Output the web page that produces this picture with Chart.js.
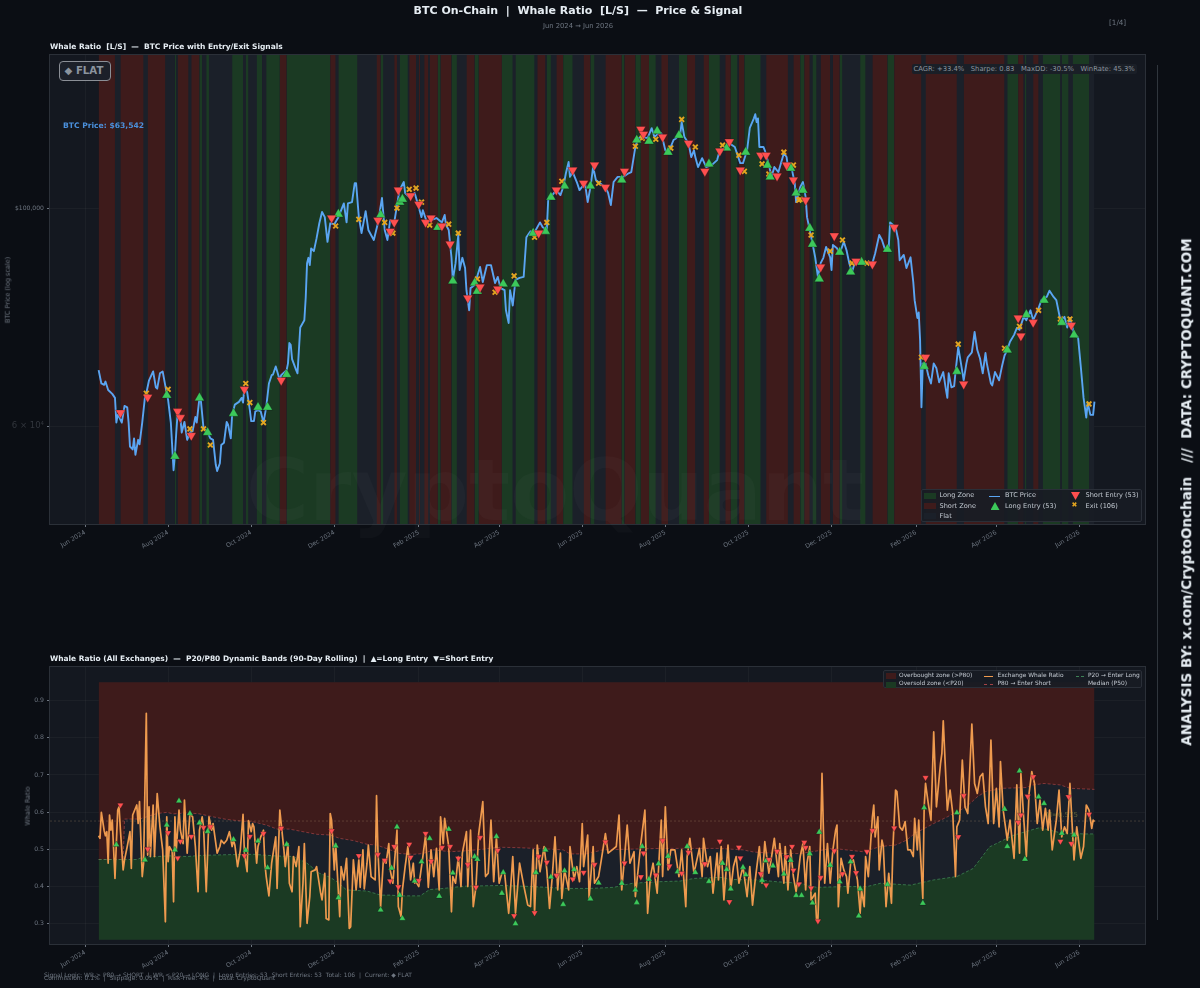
<!DOCTYPE html>
<html><head><meta charset="utf-8">
<script src="https://cdn.jsdelivr.net/npm/chart.js@4"></script>
<style>
html,body{margin:0;padding:0;background:#0b0e14;width:1200px;height:988px;overflow:hidden;font-family:"DejaVu Sans",sans-serif}
canvas{position:absolute;left:0}
.t{position:absolute;white-space:pre;line-height:1}
.leg{position:absolute;background:rgba(24,28,36,.92);border:1px solid #2a2f38;box-sizing:border-box;border-radius:2px}
.sw{position:absolute;width:12px;height:6px}
.ln{position:absolute;width:11px;height:0;border-top:1.5px solid}
.lt{position:absolute;white-space:pre;line-height:1;color:#c3c9d1}
.up,.dn{position:absolute;width:9px;height:8px}
.up{clip-path:polygon(50% 0,100% 100%,0 100%);background:#3cc95a}
.dn{clip-path:polygon(0 0,100% 0,50% 100%);background:#ff4f4f}
</style></head><body>
<canvas id="c1" width="1200" height="560" style="top:0;width:1200px;height:560px"></canvas>
<canvas id="c2" width="1200" height="340" style="top:640px;width:1200px;height:340px"></canvas>
<div id="overlay"></div>
<script>
// ---------- tick labels (x in days since 1 Jun 2024) ----------
const tickDays=[0,61,122,183,245,304,365,426,487,548,610,669,730];
const tickLabels=["Jun 2024","Aug 2024","Oct 2024","Dec 2024","Feb 2025","Apr 2025","Jun 2025","Aug 2025","Oct 2025","Dec 2025","Feb 2026","Apr 2026","Jun 2026"];
const priceTicks=[60000,100000];
const ratioTicks=[0.3,0.4,0.5,0.6,0.7,0.8,0.9];
const dayRange=[-25.7,778.1];
const priceRange=[47700,143150];
const ratioRange=[0.2442,0.991];
const bandTop=0.95, bandBottom=0.2558, medianValue=0.5757;
const dataSpan=[10,741];

// ---------- regime zones [startDay,endDay] ----------
const shortZones=[[10,22],[26,43],[46,59],[68,76],[78,84],[143,148],[180,184],[214,217],[227,229],[238,243],[245,246],[249,252],[253,259],[261,269],[280,286],[289,306],[332,338],[346,351],[366,371],[382,394],[396,404],[408,414],[423,428],[442,448],[454,458],[470,474],[480,484],[500,516],[520,525],[528,532],[540,547],[549,554],[578,589],[594,614],[617,640],[645,675],[685,689],[696,700]];
const longZones=[[66,67],[84,86],[89,91],[108,116],[118,120],[126,130],[133,143],[148,180],[186,200],[217,219],[231,237],[259,261],[269,273],[286,289],[306,314],[316,330],[339,342],[351,358],[371,374],[394,396],[404,408],[414,419],[436,442],[458,466],[474,479],[484,496],[525,528],[534,537],[554,556],[569,573],[589,594],[677,685],[690,691],[703,716],[717,722],[725,737]];

// ---------- BTC price [day, USD] ----------
const priceSeries=[[10,68400],[12,66300],[14,66100],[15,66600],[17,65300],[20,64700],[22,64100],[23,60500],[24,61600],[25,61300],[27,60500],[29,62900],[31,62700],[32,60500],[33,57200],[35,56800],[36,58300],[37,56100],[39,58100],[40,57500],[42,60500],[44,64200],[45,64800],[47,66800],[50,68200],[52,65700],[53,65500],[55,67900],[57,68200],[59,65900],[61,63800],[63,60500],[65,54100],[66,56100],[67,59100],[68,61900],[70,61200],[71,59100],[73,60600],[75,58100],[77,59100],[79,59300],[81,61300],[82,60500],[84,64100],[85,63800],[87,59700],[90,59100],[92,58300],[94,58100],[96,54800],[97,54000],[99,55000],[100,57400],[102,57700],[104,60600],[105,60200],[107,58300],[108,61600],[110,63100],[113,63500],[115,64100],[116,63400],[117,65700],[119,65000],[121,62300],[122,60700],[124,60700],[125,62100],[127,62300],[129,62100],[131,60500],[133,62700],[135,66300],[137,67600],[138,67700],[140,69000],[143,66800],[144,67600],[148,68400],[149,69500],[150,72900],[151,72600],[152,70200],[155,68400],[156,67900],[158,75600],[161,76900],[162,81000],[163,87900],[164,89000],[165,87500],[166,91000],[168,90400],[170,93200],[172,96500],[174,99100],[176,97900],[178,92400],[180,96500],[183,96300],[186,97900],[190,101100],[192,96700],[193,101100],[196,101400],[198,106000],[199,106000],[201,97900],[203,94300],[206,99300],[208,95000],[212,92800],[215,96500],[218,102400],[220,95000],[222,92800],[224,97200],[227,96700],[230,102600],[231,104400],[234,106300],[235,103600],[238,102600],[242,103600],[245,100200],[247,97900],[248,99500],[251,96700],[254,97200],[258,97700],[262,96700],[264,98400],[265,96100],[267,95000],[269,89100],[270,84500],[272,87900],[274,93900],[275,86500],[277,89000],[279,86900],[280,82500],[282,78700],[283,82900],[286,83500],[290,87100],[292,84100],[295,87500],[298,87500],[301,83900],[303,85100],[305,82900],[308,82500],[309,78700],[311,76400],[312,82500],[314,79600],[316,84500],[319,84900],[322,85100],[324,93400],[327,94700],[330,94500],[334,96700],[336,95600],[339,95000],[340,101900],[343,103100],[346,104300],[349,103100],[351,105000],[353,108500],[355,111400],[356,107600],[358,108800],[361,106300],[363,104300],[367,106000],[369,101400],[371,105000],[373,110100],[375,106800],[378,106000],[382,105000],[384,103600],[386,100700],[388,106300],[391,107600],[395,107600],[399,108500],[401,108800],[404,115400],[406,117800],[410,118100],[413,117800],[416,120600],[418,118100],[421,119200],[423,119200],[426,114500],[428,113700],[432,117300],[434,117800],[437,119200],[438,122300],[440,118100],[443,116400],[445,112700],[447,114500],[448,112700],[450,110100],[453,112400],[456,110100],[460,110600],[464,111900],[466,114500],[470,115100],[473,116400],[477,115400],[481,111100],[483,111100],[486,114500],[488,120700],[491,123400],[492,124600],[493,122300],[494,123400],[495,115400],[498,115400],[499,114500],[502,110600],[504,107600],[506,110100],[509,108800],[513,113700],[515,112700],[516,110100],[519,109300],[521,106000],[522,101400],[525,105000],[527,106300],[529,102600],[530,97900],[532,95000],[534,92100],[536,89100],[538,85100],[540,87900],[542,89000],[544,91300],[547,89100],[548,86500],[549,91700],[552,91000],[554,89900],[557,92400],[559,90600],[561,87900],[563,86100],[565,87900],[569,88100],[574,87900],[578,87900],[580,89900],[583,93900],[585,92800],[587,91000],[590,91300],[591,96700],[595,95600],[597,92800],[598,88500],[601,89600],[603,86900],[606,89100],[608,84100],[609,80600],[611,77300],[612,78300],[613,73400],[614,62700],[615,69500],[617,69500],[619,67600],[621,66300],[623,69500],[625,68700],[627,66500],[630,68100],[632,65300],[633,64100],[634,67900],[636,65700],[638,65900],[639,68100],[641,72200],[643,69500],[645,66800],[647,69500],[648,70500],[651,71300],[653,74800],[655,71700],[657,70300],[659,67900],[661,71200],[662,69500],[665,66300],[666,66000],[668,68100],[671,66800],[673,68900],[675,70800],[677,71700],[679,73100],[682,74300],[684,75500],[686,75200],[689,77500],[691,76900],[694,78700],[696,76900],[700,79100],[702,80600],[704,81000],[706,81200],[708,82400],[711,81200],[713,80600],[716,76900],[719,77500],[721,75600],[723,77300],[726,74600],[729,73800],[731,68900],[733,64100],[735,61200],[736,63400],[738,61600],[740,61600],[741,63542]];

// ---------- price-panel signals [day, USD] ----------
const priceLong=[[60,64500],[66,55900],[84,64100],[90,59100],[109,61800],[127,62700],[134,62700],[148,67700],[186,98600],[217,98400],[231,101400],[233,102100],[259,95600],[270,84300],[286,83900],[288,82300],[307,83700],[316,83700],[329,94300],[338,94700],[342,102600],[352,105300],[371,105300],[394,106800],[405,117300],[414,117000],[420,119800],[428,114000],[436,118600],[458,110900],[471,115100],[485,114000],[501,110600],[503,107600],[518,109800],[522,103600],[527,104300],[532,95400],[534,91900],[539,84700],[554,90200],[562,86100],[570,88100],[589,90800],[616,69000],[640,68200],[677,71700],[691,77900],[704,80600],[717,76500],[726,74300]];
const priceShort=[[26,61900],[46,64200],[68,62100],[70,61200],[78,58700],[117,65400],[144,66800],[181,97700],[215,97200],[224,94700],[227,96700],[230,104300],[239,102900],[245,100900],[250,96700],[254,97700],[262,95900],[268,91900],[281,81000],[290,83100],[303,82700],[333,94300],[346,104300],[358,109300],[366,106000],[374,110600],[382,105000],[396,109000],[408,120300],[410,118900],[424,118100],[443,116400],[455,109000],[466,114300],[473,116800],[481,109300],[496,113200],[500,113200],[508,107800],[515,110600],[520,106800],[529,101900],[540,87100],[550,93700],[566,88300],[578,87700],[594,95600],[617,70500],[645,66200],[685,77300],[687,74100],[696,76500],[724,76000]];
const priceExit=[[45,64800],[61,65400],[77,59600],[87,59600],[92,57400],[118,66300],[121,63400],[131,60500],[184,95900],[201,97400],[220,96700],[226,94300],[229,100000],[238,104500],[243,104800],[247,101400],[253,96100],[267,96300],[274,94300],[288,84700],[301,82100],[315,85300],[330,93400],[339,96700],[350,106500],[377,106000],[404,115600],[409,117800],[419,117500],[430,115100],[438,123100],[448,115400],[468,115900],[480,113200],[484,109000],[497,110900],[502,108300],[513,114000],[520,110600],[524,101900],[525,102100],[533,93900],[547,90400],[556,92800],[563,87900],[574,87900],[614,70500],[641,72700],[675,72000],[686,75800],[700,78700],[716,77100],[723,77100],[737,63200]];

// ---------- rolling bands [day, ratio] ----------
const p80Band=[[10,.472],[28,.472],[29,.581],[40,.581],[53,.596],[60,.599],[65,.595],[75,.598],[84,.595],[94,.587],[104,.580],[114,.576],[124,.573],[133,.565],[141,.554],[150,.554],[160,.547],[170,.540],[180,.538],[187,.529],[197,.523],[207,.513],[214,.511],[221,.502],[231,.488],[241,.486],[248,.488],[256,.498],[268,.493],[278,.495],[290,.499],[305,.505],[317,.504],[336,.501],[351,.498],[356,.487],[368,.487],[380,.498],[402,.500],[424,.502],[439,.502],[464,.502],[483,.498],[491,.492],[508,.488],[525,.488],[549,.502],[571,.493],[584,.507],[595,.511],[603,.524],[609,.542],[623,.569],[633,.587],[647,.614],[655,.641],[661,.655],[674,.664],[691,.666],[696,.673],[704,.677],[716,.673],[723,.664],[741,.661]];
const p20Band=[[10,.472],[38,.472],[43,.479],[53,.480],[62,.482],[75,.480],[84,.483],[104,.485],[124,.486],[138,.482],[153,.480],[163,.462],[172,.435],[180,.424],[185,.412],[192,.390],[207,.387],[217,.376],[224,.376],[231,.374],[246,.374],[253,.391],[263,.394],[278,.400],[305,.402],[329,.399],[354,.394],[371,.394],[388,.397],[402,.408],[420,.412],[437,.414],[447,.421],[466,.424],[476,.418],[495,.417],[508,.412],[525,.408],[537,.397],[557,.399],[574,.399],[584,.408],[606,.403],[623,.417],[640,.426],[652,.448],[664,.506],[674,.524],[682,.538],[696,.553],[701,.558],[716,.544],[733,.541],[741,.541]];

// ---------- exchange whale ratio [day, ratio] ----------
const whaleRatio=[[10,.536],[11,.529],[12,.599],[14,.551],[15,.536],[16,.547],[17,.462],[18,.592],[19,.551],[20,.578],[22,.421],[23,.515],[24,.605],[25,.614],[26,.551],[28,.444],[29,.471],[31,.507],[33,.547],[34,.448],[35,.592],[38,.619],[39,.569],[40,.628],[42,.426],[43,.462],[45,.866],[46,.484],[47,.614],[48,.480],[50,.619],[51,.480],[53,.650],[55,.560],[57,.498],[59,.304],[60,.587],[61,.466],[62,.507],[64,.493],[65,.358],[66,.587],[67,.498],[69,.605],[70,.551],[72,.515],[73,.632],[75,.489],[77,.596],[79,.587],[81,.507],[83,.385],[84,.551],[86,.587],[87,.560],[89,.385],[91,.587],[93,.551],[94,.569],[97,.489],[99,.507],[100,.524],[102,.515],[104,.524],[106,.547],[108,.507],[109,.524],[110,.511],[112,.453],[114,.498],[116,.594],[117,.489],[119,.439],[120,.577],[122,.547],[123,.569],[124,.560],[126,.462],[127,.507],[129,.533],[131,.551],[132,.462],[133,.426],[135,.374],[137,.462],[140,.533],[141,.394],[143,.605],[146,.498],[147,.453],[149,.515],[150,.408],[152,.385],[153,.480],[155,.453],[157,.507],[158,.291],[160,.408],[161,.515],[163,.300],[165,.372],[166,.439],[169,.444],[170,.453],[173,.381],[174,.363],[176,.435],[177,.313],[179,.309],[180,.596],[181,.578],[183,.444],[184,.515],[187,.318],[188,.453],[190,.417],[192,.475],[194,.286],[195,.291],[197,.471],[199,.390],[201,.471],[202,.397],[204,.498],[205,.393],[207,.462],[208,.511],[210,.426],[213,.417],[214,.644],[215,.498],[217,.345],[219,.471],[221,.462],[223,.515],[224,.444],[226,.408],[229,.551],[230,.345],[232,.318],[233,.390],[235,.453],[237,.507],[239,.417],[241,.462],[242,.408],[243,.412],[245,.399],[248,.480],[250,.538],[252,.397],[254,.498],[256,.426],[258,.502],[260,.390],[261,.587],[263,.515],[264,.583],[266,.533],[267,.507],[269,.331],[270,.426],[272,.408],[274,.480],[276,.399],[277,.489],[280,.547],[281,.399],[283,.551],[285,.345],[287,.399],[289,.542],[292,.628],[294,.426],[296,.435],[298,.578],[300,.412],[302,.533],[304,.408],[306,.435],[308,.435],[311,.327],[312,.372],[314,.480],[316,.327],[319,.462],[322,.403],[325,.349],[327,.345],[329,.498],[330,.327],[332,.511],[334,.439],[337,.507],[339,.444],[341,.340],[343,.426],[345,.533],[347,.390],[349,.489],[350,.367],[352,.444],[355,.390],[356,.507],[359,.417],[361,.453],[363,.412],[365,.569],[366,.453],[369,.538],[370,.367],[373,.507],[374,.408],[377,.426],[379,.471],[382,.542],[384,.489],[387,.498],[390,.507],[392,.592],[394,.390],[396,.475],[398,.565],[400,.462],[403,.493],[404,.372],[405,.408],[408,.515],[411,.605],[413,.327],[415,.426],[417,.462],[420,.381],[423,.578],[424,.426],[426,.614],[428,.444],[430,.498],[433,.498],[436,.426],[438,.498],[441,.345],[442,.480],[444,.529],[447,.435],[451,.502],[453,.426],[454,.529],[457,.453],[459,.480],[461,.381],[464,.489],[465,.417],[467,.507],[469,.363],[472,.511],[474,.390],[476,.453],[478,.480],[480,.408],[483,.453],[486,.372],[488,.453],[490,.349],[492,.417],[495,.507],[497,.408],[499,.520],[502,.435],[504,.480],[506,.529],[509,.426],[510,.515],[513,.408],[514,.507],[516,.390],[518,.498],[520,.426],[522,.385],[525,.480],[527,.515],[529,.390],[530,.462],[532,.507],[533,.363],[536,.381],[537,.309],[538,.309],[540,.533],[541,.704],[543,.408],[545,.515],[546,.462],[547,.408],[549,.498],[551,.551],[552,.565],[553,.345],[555,.475],[557,.444],[559,.426],[560,.381],[562,.462],[564,.471],[567,.417],[569,.327],[570,.390],[572,.345],[573,.480],[575,.426],[578,.587],[579,.619],[580,.533],[582,.587],[583,.444],[585,.524],[586,.507],[588,.345],[590,.435],[592,.354],[593,.498],[595,.659],[596,.655],[598,.560],[600,.551],[602,.574],[604,.498],[606,.498],[608,.480],[609,.583],[611,.498],[612,.578],[615,.367],[616,.614],[617,.677],[619,.623],[621,.578],[623,.816],[625,.614],[628,.731],[629,.758],[630,.846],[633,.605],[635,.659],[637,.596],[639,.426],[640,.560],[642,.578],[644,.740],[646,.614],[648,.596],[651,.837],[653,.677],[655,.650],[657,.695],[659,.704],[661,.614],[663,.569],[665,.794],[667,.569],[669,.664],[671,.560],[672,.736],[674,.605],[677,.524],[679,.578],[682,.475],[684,.673],[686,.489],[687,.704],[689,.587],[691,.480],[693,.650],[695,.709],[697,.677],[699,.569],[701,.632],[703,.551],[705,.610],[707,.551],[708,.605],[710,.498],[712,.551],[713,.578],[715,.659],[717,.533],[719,.560],[721,.542],[723,.677],[726,.471],[728,.560],[731,.475],[733,.507],[735,.619],[737,.605],[739,.556],[740,.578],[741,.574]];

// ---------- ratio-panel signals [day, ratio] ----------
const ratioLong=[[23,.512],[44,.471],[60,.565],[66,.498],[69,.630],[77,.596],[84,.571],[90,.548],[109,.526],[118,.497],[127,.522],[134,.450],[148,.513],[184,.509],[186,.369],[217,.336],[225,.449],[229,.560],[231,.376],[233,.313],[242,.414],[247,.466],[253,.529],[260,.373],[267,.554],[270,.436],[286,.480],[288,.473],[302,.534],[306,.381],[307,.437],[316,.299],[331,.437],[338,.498],[342,.425],[351,.351],[352,.442],[359,.445],[371,.366],[377,.409],[394,.408],[404,.390],[405,.356],[409,.507],[414,.419],[421,.461],[428,.481],[435,.439],[442,.507],[448,.437],[458,.413],[468,.462],[471,.445],[474,.393],[483,.451],[485,.431],[497,.416],[500,.469],[505,.455],[513,.433],[518,.470],[522,.375],[526,.375],[532,.488],[534,.355],[539,.546],[547,.457],[554,.412],[562,.466],[568,.320],[569,.393],[589,.405],[615,.354],[616,.612],[640,.598],[675,.608],[677,.507],[686,.711],[690,.473],[700,.641],[704,.623],[717,.543],[726,.538]];
const ratioShort=[[26,.619],[46,.500],[61,.544],[68,.476],[70,.521],[78,.534],[87,.558],[92,.560],[117,.482],[121,.534],[131,.542],[144,.556],[181,.549],[201,.482],[215,.485],[220,.470],[224,.414],[227,.507],[230,.398],[238,.513],[239,.478],[245,.415],[250,.542],[254,.467],[262,.504],[268,.507],[274,.475],[281,.458],[287,.397],[290,.531],[303,.497],[315,.320],[330,.328],[333,.480],[339,.464],[346,.429],[358,.419],[366,.437],[374,.458],[382,.519],[396,.462],[408,.425],[410,.489],[419,.430],[424,.523],[429,.454],[438,.435],[443,.491],[455,.460],[466,.521],[473,.358],[480,.505],[481,.476],[496,.433],[500,.403],[502,.472],[508,.494],[515,.479],[519,.507],[520,.443],[524,.406],[528,.518],[529,.504],[533,.395],[538,.306],[540,.423],[550,.495],[556,.433],[563,.480],[566,.436],[574,.493],[578,.550],[594,.557],[617,.693],[641,.533],[645,.644],[685,.572],[687,.592],[692,.642],[696,.695],[716,.521],[722,.641],[724,.515],[737,.594]];

// ---------- colours ----------
const COL={plot:'#141820',flat:'#1b2029',long:'#1b3a23',short:'#3e1b1b',price:'#5aa5f2',ratio:'#ee9a4e',up:'#3cc95a',dn:'#ff4f4f',exit:'#e3a520',tick:'#6e7681',spine:'#2b3038'};

const xy=a=>a.map(p=>({x:p[0],y:p[1]}));
function zoneData(list,top){const out=[];list.forEach(z=>{out.push({x:z[0],y:top},{x:z[1],y:top},{x:z[1],y:null});});return out;}
function zoneSet(list,top,color,order,fill){return {type:'line',data:zoneData(list,top),borderWidth:0,pointRadius:0,backgroundColor:color,borderColor:'transparent',fill:fill,spanGaps:false,order:order};}
function lineSet(data,color,w,order,extra){return Object.assign({type:'line',data:xy(data),borderColor:color,borderWidth:w,pointRadius:0,fill:false,tension:0,borderJoinStyle:'round',order:order},extra||{});}
function markSet(data,style,color,r,order,extra){return Object.assign({type:'line',data:xy(data),showLine:false,pointStyle:style,pointRadius:r,pointBackgroundColor:color,pointBorderColor:'rgba(10,14,20,.55)',pointBorderWidth:.5,order:order},extra||{});}

const frame={id:'frame',
 beforeDraw(c){const a=c.chartArea,g=c.ctx;g.save();g.fillStyle=COL.plot;g.fillRect(a.left,a.top,a.right-a.left,a.bottom-a.top);g.restore();},
 afterDraw(c){const a=c.chartArea,g=c.ctx;g.save();g.strokeStyle=COL.spine;g.lineWidth=1;g.strokeRect(a.left-.5,a.top-.5,a.right-a.left+1,a.bottom-a.top+1);g.restore();}};

function xAxis(){return {type:'linear',min:dayRange[0],max:dayRange[1],
 afterBuildTicks:s=>{s.ticks=tickDays.map(v=>({value:v}));},
 afterFit:s=>{s.height=36;},
 grid:{color:'rgba(255,255,255,.035)',lineWidth:1,tickColor:'#6e7681',tickLength:3,drawTicks:true},border:{display:false},
 ticks:{autoSkip:false,minRotation:30,maxRotation:30,color:COL.tick,padding:2,font:{family:'DejaVu Sans',size:6.2},callback:v=>tickLabels[tickDays.indexOf(v)]||''}};}
const baseOpts={responsive:false,animation:false,devicePixelRatio:1,events:[],plugins:{legend:{display:false},tooltip:{enabled:false},title:{display:false}}};

new Chart(document.getElementById('c1'),{type:'line',plugins:[frame],
 data:{datasets:[
  zoneSet([dataSpan],priceRange[1],COL.flat,20,'start'),
  zoneSet(longZones,priceRange[1],COL.long,19,'start'),
  zoneSet(shortZones,priceRange[1],COL.short,18,'start'),
  lineSet(priceSeries,COL.price,1.9,10),
  markSet(priceExit,'crossRot',COL.exit,3.4,5,{pointBorderColor:COL.exit,pointBorderWidth:1.9}),
  markSet(priceLong,'triangle',COL.up,5.6,4),
  markSet(priceShort,'triangle',COL.dn,5.6,3,{pointRotation:180})
 ]},
 options:Object.assign({},baseOpts,{layout:{padding:{top:55,right:55,left:0,bottom:0}},
  scales:{x:xAxis(),
   y:{type:'logarithmic',min:priceRange[0],max:priceRange[1],
    afterBuildTicks:s=>{s.ticks=priceTicks.map(v=>({value:v}));},
    afterFit:s=>{s.width=50;},
    grid:{color:'rgba(255,255,255,.035)',tickColor:'#6e7681',tickLength:3},border:{display:false},
    ticks:{autoSkip:false,padding:3,color:c=>c.tick&&c.tick.value===60000?'#32363d':COL.tick,
     font:c=>({family:'DejaVu Sans',size:c.tick&&c.tick.value===60000?8.5:6.1}),
     callback:v=>v===60000?'6 × 10⁴':'$'+v.toLocaleString('en-US')}}}})});

new Chart(document.getElementById('c2'),{type:'line',plugins:[frame],
 data:{datasets:[
  zoneSet([dataSpan],bandTop,COL.flat,20,{value:bandBottom}),
  lineSet(p80Band,'rgba(255,95,95,.5)',.8,19,{backgroundColor:COL.short,fill:{value:bandTop},borderDash:[3,2]}),
  lineSet(p20Band,'rgba(90,200,120,.55)',.8,18,{backgroundColor:COL.long,fill:{value:bandBottom},borderDash:[3,2]}),
  lineSet([[dayRange[0],medianValue],[dayRange[1],medianValue]],'rgba(190,160,120,.33)',.8,15,{borderDash:[2,2]}),
  lineSet(whaleRatio,COL.ratio,1.7,10),
  markSet(ratioLong,'triangle',COL.up,3.7,4),
  markSet(ratioShort,'triangle',COL.dn,3.7,3,{pointRotation:180})
 ]},
 options:Object.assign({},baseOpts,{layout:{padding:{top:27,right:55,left:0,bottom:0}},
  scales:{x:xAxis(),
   y:{type:'linear',min:ratioRange[0],max:ratioRange[1],
    afterBuildTicks:s=>{s.ticks=ratioTicks.map(v=>({value:v}));},
    afterFit:s=>{s.width=50;},
    grid:{color:'rgba(255,255,255,.035)',tickColor:'#6e7681',tickLength:3},border:{display:false},
    ticks:{autoSkip:false,padding:3,color:COL.tick,font:{family:'DejaVu Sans',size:6.2},callback:v=>v.toFixed(1)}}}})});

// ---------- text overlays ----------
const ov=document.getElementById('overlay');
function T(txt,x,y,size,color,o){const d=document.createElement('div');d.className='t';d.textContent=txt;d.style.cssText+=`left:${x}px;top:${y}px;font-size:${size}px;color:${color};`+(o||'');ov.appendChild(d);return d;}
function L(box,items){const b=document.createElement('div');b.className='leg';b.style.cssText+=`left:${box[0]}px;top:${box[1]}px;width:${box[2]}px;height:${box[3]}px`;ov.appendChild(b);
 items.forEach(i=>{const e=document.createElement('div');e.className=i.c;e.style.cssText+=`left:${i.x-box[0]}px;top:${i.y-box[1]}px;`+(i.s||'');if(i.t){e.textContent=i.t;}b.appendChild(e);});}

T('BTC On-Chain  |  Whale Ratio  [L/S]  —  Price & Signal',578,5,11,'#e6edf3','font-weight:700;transform:translateX(-50%);');
T('Jun 2024 → Jun 2026',578,22.5,6.8,'#6e7681','transform:translateX(-50%);');
T('[1/4]',1109,18.5,7.2,'#6e7681');
T('Whale Ratio  [L/S]  —  BTC Price with Entry/Exit Signals',50,43,7.5,'#e6edf3','font-weight:700;');
T('Whale Ratio (All Exchanges)  —  P20/P80 Dynamic Bands (90-Day Rolling)  |  ▲=Long Entry  ▼=Short Entry',50,655,7.45,'#e6edf3','font-weight:700;');
T('BTC Price (log scale)',8,290,6.5,'#6e7681','transform:translate(-50%,-50%) rotate(-90deg);');
T('Whale Ratio',28,806,6.5,'#6e7681','transform:translate(-50%,-50%) rotate(-90deg);');
T('CryptoQuant',555,490,86,'rgba(255,255,255,.024)','font-weight:700;transform:translate(-50%,-50%);');
T('CAGR: +33.4%   Sharpe: 0.83   MaxDD: -30.5%   WinRate: 45.3%',911.5,64,6.8,'#8b949e','background:#1a1f27;border-radius:2px;padding:1.5px 2px;');
T('◆ FLAT',58.5,61,10.2,'#8b949e','font-weight:700;border:1.5px solid #8b8f96;border-radius:4px;padding:3.5px 4px 3.5px 5px;background:#1c2029;box-sizing:border-box;height:20px;width:52px;');
T('BTC Price: $63,542',63,122,7.6,'#4a90dc','font-weight:700;');
T('M=0.575',1046,812,7,'rgba(170,170,70,.45)');
T('Signal Logic: WR > P80 → SHORT  |  WR < P20 → LONG  |  Long Entries: 53  Short Entries: 53  Total: 106  |  Current: ◆ FLAT',44,972,6,'#6e7681');
T('Commission: 0.1%  |  Slippage: 0.05%  |  Risk-Free: 4%  |  Data: CryptoQuant',44,974.5,6,'#6e7681');
T('ANALYSIS BY: x.com/CryptoOnchain   ///  DATA: CRYPTOQUANT.COM',1187,491.5,13.5,'#e6edf3','font-weight:700;transform:translate(-50%,-50%) rotate(-90deg);');
const rule=document.createElement('div');rule.style.cssText='position:absolute;left:1157px;top:65px;width:1px;height:855px;background:#30363d';ov.appendChild(rule);

L([920.5,489,221,33],[
 {c:'sw',x:922.5,y:492,s:'background:'+COL.long},{c:'lt',x:938.5,y:491,t:'Long Zone',s:'font-size:6.6px'},
 {c:'sw',x:922.5,y:502,s:'background:'+COL.short},{c:'lt',x:938.5,y:501.5,t:'Short Zone',s:'font-size:6.6px'},
 {c:'sw',x:922.5,y:512,s:'background:'+COL.flat},{c:'lt',x:938.5,y:511.5,t:'Flat',s:'font-size:6.6px'},
 {c:'ln',x:988,y:494.5,s:'border-color:'+COL.price},{c:'lt',x:1004,y:491,t:'BTC Price',s:'font-size:6.6px'},
 {c:'up',x:989.5,y:501,},{c:'lt',x:1004,y:501.5,t:'Long Entry (53)',s:'font-size:6.6px'},
 {c:'dn',x:1070,y:491},{c:'lt',x:1084.5,y:491,t:'Short Entry (53)',s:'font-size:6.6px'},
 {c:'lt',x:1070.5,y:501,t:'✖',s:'font-size:7px;color:'+COL.exit},{c:'lt',x:1084.5,y:501.5,t:'Exit (106)',s:'font-size:6.6px'}
]);
L([882.5,670,259,18],[
 {c:'sw',x:885,y:672,s:'width:10px;background:'+COL.short},{c:'lt',x:898,y:671.5,t:'Overbought zone (>P80)',s:'font-size:5.9px'},
 {c:'sw',x:885,y:680.5,s:'width:10px;background:'+COL.long},{c:'lt',x:898,y:680,t:'Oversold zone (<P20)',s:'font-size:5.9px'},
 {c:'ln',x:983,y:674.5,s:'width:9px;border-color:'+COL.ratio},{c:'lt',x:996.5,y:671.5,t:'Exchange Whale Ratio',s:'font-size:5.9px'},
 {c:'ln',x:983,y:683,s:'width:9px;border-top:1px dashed rgba(255,95,95,.6)'},{c:'lt',x:996.5,y:680,t:'P80 → Enter Short',s:'font-size:5.9px'},
 {c:'ln',x:1075,y:674.5,s:'width:8px;border-top:1px dashed rgba(90,200,120,.6)'},{c:'lt',x:1087,y:671.5,t:'P20 → Enter Long',s:'font-size:5.9px'},
 {c:'lt',x:1087,y:680,t:'Median (P50)',s:'font-size:5.9px'}
]);
</script>
</body></html>
